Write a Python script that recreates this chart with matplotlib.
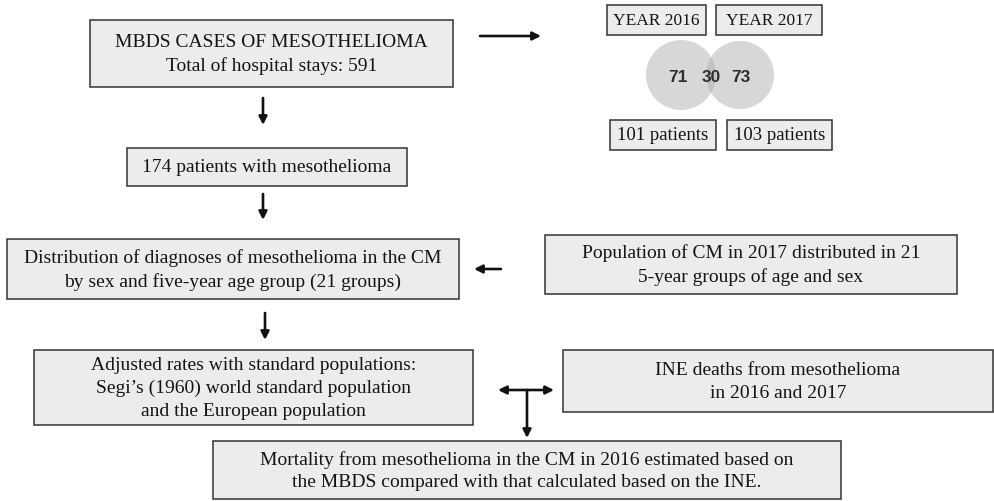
"""Flowchart of mesothelioma case selection (MBDS vs INE)."""

import matplotlib.pyplot as plt
from matplotlib.patches import Circle, Rectangle

# Box texts
main_labels = [
    "MBDS CASES OF MESOTHELIOMA\nTotal of hospital stays: 591",
    "174 patients with mesothelioma",
    "Distribution of diagnoses of mesothelioma in the CM\nby sex and five-year age group (21 groups)",
    "Population of CM in 2017 distributed in 21\n5-year groups of age and sex",
    "Adjusted rates with standard populations:\nSegi\u2019s (1960) world standard population\nand the European population",
    "INE deaths from mesothelioma\nin 2016 and 2017",
    "Mortality from mesothelioma in the CM in 2016 estimated based on\nthe MBDS compared with that calculated based on the INE.",
]
year_labels = ["YEAR 2016", "YEAR 2017"]
patient_labels = ["101 patients", "103 patients"]
# Venn counts: only 2016, both years, only 2017
venn_counts = [71, 30, 73]

# Layout in pixel coordinates (x0, y0, x1, y1), y from the top
main_boxes = [
    (90, 21, 453, 88),
    (127, 149, 407, 187),
    (7, 240, 459, 300),
    (545, 236, 957, 295),
    (34, 351, 473, 426),
    (563, 351, 993, 413),
    (213, 442, 841, 500),
]
year_boxes = [(607, 6, 706, 36), (716, 6, 822, 36)]
patient_boxes = [(610, 121, 716, 151), (727, 121, 832, 151)]
venn_circles = [((681, 76), 35), ((740, 76), 34)]
venn_text_x = [678, 711, 741]

# (start, end, style)
arrows = [
    ((480, 37), (541, 37), "-|>"),
    ((263, 99), (263, 126), "-|>"),
    ((263, 195), (263, 221), "-|>"),
    ((501, 270), (474, 270), "-|>"),
    ((265, 314), (265, 341), "-|>"),
    ((498, 391), (554, 391), "<|-|>"),
    ((527, 391), (527, 439), "-|>"),
]

SERIF = ["Liberation Serif", "DejaVu Serif"]
BOX_FACE = "#ececec"
BOX_EDGE = "#333333"
TEXT_COLOR = "#141414"


def draw_box(ax, box, label, fontsize=14, linespacing=1.45):
    x0, y0, x1, y1 = box
    ax.add_patch(Rectangle((x0, y0), x1 - x0, y1 - y0, facecolor=BOX_FACE,
                           edgecolor=BOX_EDGE, lw=1.1, zorder=2))
    ax.text((x0 + x1) / 2, (y0 + y1) / 2, label, ha="center", va="center",
            fontsize=fontsize, family=SERIF, color=TEXT_COLOR,
            linespacing=linespacing, zorder=3)


fig = plt.figure(figsize=(9.94, 5.02), dpi=100)
ax = fig.add_axes([0, 0, 1, 1])
ax.set_xlim(0, 994)
ax.set_ylim(502, 0)
ax.axis("off")

for box, label in zip(main_boxes, main_labels):
    draw_box(ax, box, label)

for box, label in zip(year_boxes, year_labels):
    draw_box(ax, box, label, fontsize=12.5)

for box, label in zip(patient_boxes, patient_labels):
    draw_box(ax, box, label, fontsize=13.5)

# Venn diagram of patients per year
for center, r in venn_circles:
    ax.add_patch(Circle(center, r, facecolor="#b0b0b0", edgecolor="none",
                        alpha=0.5, zorder=2))
for x, n in zip(venn_text_x, venn_counts):
    ax.text(x, 77, str(n), ha="center", va="center", fontsize=12.5,
            family=["Liberation Sans", "DejaVu Sans"], fontweight="bold",
            color="#2e2e2e", zorder=3)

for start, end, style in arrows:
    ax.annotate("", xy=end, xytext=start,
                arrowprops=dict(arrowstyle=style, color="#111111", lw=1.9,
                                mutation_scale=12, shrinkA=0, shrinkB=0),
                zorder=4)

fig.savefig("out.png", dpi=100)
